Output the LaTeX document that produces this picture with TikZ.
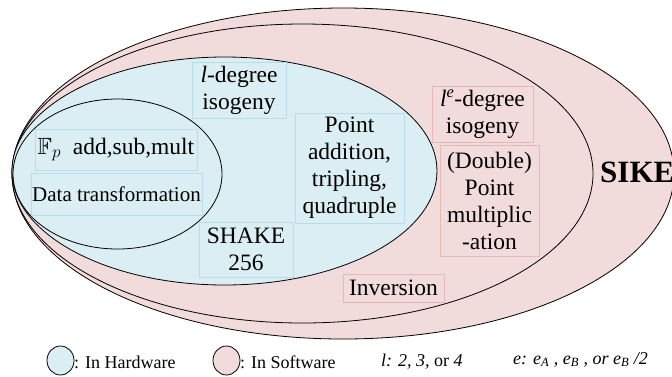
\documentclass[tikz,border=0pt]{standalone}
\usepackage{fontspec}
\setmainfont{Liberation Serif}
\usepackage{amssymb}
\definecolor{hw}{HTML}{DAEEF3}
\definecolor{sw}{HTML}{F2DCDB}
\definecolor{hwline}{HTML}{B7DEE8}
\definecolor{swline}{HTML}{E6B9B8}
\newcommand\mainsz{\fontsize{23.5}{27}\selectfont}
\newcommand\legsz{\fontsize{18}{21}\selectfont}
\tikzset{
  setline/.style={draw=black, line width=0.8pt},
  hwbox/.style={draw=hwline, line width=0.8pt, inner sep=0pt, align=center, font=\mainsz},
  swbox/.style={draw=swline, line width=0.8pt, inner sep=0pt, align=center, font=\mainsz},
  legtext/.style={inner sep=0pt, anchor=base west, font=\legsz},
}
\begin{document}
\begin{tikzpicture}[x=1pt,y=-1pt]
\useasboundingbox (0,0) rectangle (672,376);
% sets
\draw[setline, fill=sw] (343,173.5) ellipse [x radius=331, y radius=165.5];
\draw[setline, fill=sw] (302.5,173.5) ellipse [x radius=290.5, y radius=149.5];
\draw[setline, fill=hw] (224.5,171) ellipse [x radius=212.5, y radius=114];
\draw[setline, fill=hw] (117.5,174) ellipse [x radius=104.5, y radius=75];
% hardware boxes
\node[hwbox, minimum width=94pt, minimum height=56pt] (ldeg) at (239,90) {\textit{l}-degree\\isogeny};
\node[hwbox, minimum width=162pt, minimum height=41pt] (fp) at (116,149.5) {$\mathbb{F}_p$\ \ add,sub,mult};
\node[hwbox, minimum width=171pt, minimum height=42pt, font=\fontsize{21}{24}\selectfont] (data) at (116.5,194) {Data transformation};
\node[hwbox, minimum width=109pt, minimum height=110pt] (point) at (349.5,168) {Point\\addition,\\tripling,\\quadruple};
\node[hwbox, minimum width=94pt, minimum height=55pt] (shake) at (246,249.5) {SHAKE\\256};
% software boxes
\node[swbox, minimum width=101pt, minimum height=56pt] (ledeg) at (482.5,114) {\textit{l}\textsuperscript{\textit{e}}-degree\\isogeny};
\node[swbox, minimum width=99pt, minimum height=111pt] (pmul) at (489.5,200.5) {(Double)\\Point\\multiplic\\-ation};
\node[swbox, minimum width=101pt, minimum height=28pt] (inv) at (393.5,288) {Inversion};
\node[inner sep=0pt, anchor=base west, font=\fontsize{31}{34}\selectfont\bfseries] (sike) at (600,182) {SIKE};
% legend
\draw[setline, fill=hw] (60.5,360.5) ellipse [x radius=13.5, y radius=14.5];
\node[legtext] (lhw) at (74,368) {: In Hardware};
\draw[setline, fill=sw] (226.5,360.5) ellipse [x radius=13.5, y radius=14.5];
\node[legtext] (lsw) at (240,368) {: In Software};
\node[legtext] (ll) at (381,366) {\textit{l: 2, 3,} or \textit{4}};
\node[legtext] (le) at (513,364) {\textit{e: e\textsubscript{A} , e\textsubscript{B} ,  or e\textsubscript{B} /2}};
\end{tikzpicture}
\end{document}
